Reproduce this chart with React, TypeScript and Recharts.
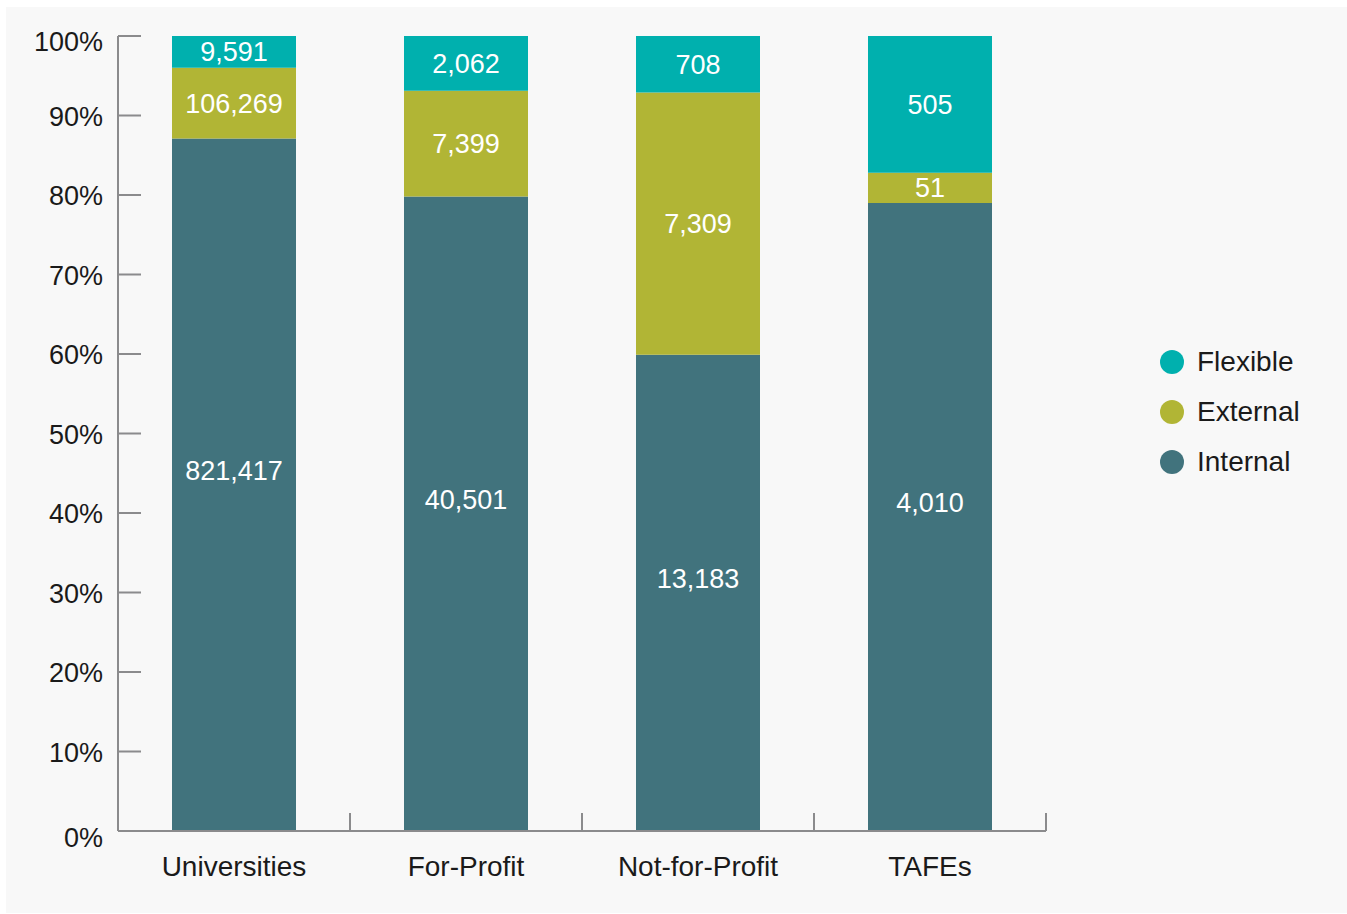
import React from 'react';
import { BarChart, Bar, XAxis, YAxis, LabelList, Legend } from 'recharts';

const categories = ['Universities', 'For-Profit', 'Not-for-Profit', 'TAFEs'];

// share of each provider type (%)
const internalPct = [87.1, 79.8, 59.9, 79.0];
const externalPct = [8.9, 13.3, 33.0, 3.8];
const flexiblePct = [4.0, 6.9, 7.1, 17.2];

// student counts printed inside the bars
const internalCount = [821417, 40501, 13183, 4010];
const externalCount = [106269, 7399, 7309, 51];
const flexibleCount = [9591, 2062, 708, 505];

const yTicks = [0, 10, 20, 30, 40, 50, 60, 70, 80, 90, 100];

const COLORS = {
  internal: '#41737d',
  external: '#b1b535',
  flexible: '#00b0ae',
};
const AXIS = '#8b8b8d';
const FONT = '"Liberation Sans", Arial, sans-serif';

const data = categories.map((name, i) => ({
  name,
  internal: internalPct[i],
  external: externalPct[i],
  flexible: flexiblePct[i],
  internalN: internalCount[i],
  externalN: externalCount[i],
  flexibleN: flexibleCount[i],
}));

const W = 1347;
const H = 914;
const AXIS_X = 118;
const AXIS_Y = 831;
const PLOT_RIGHT = 1046;
const HALF_BAND = (PLOT_RIGHT - AXIS_X) / categories.length / 2;

const fmt = (v: any) => Number(v).toLocaleString('en-US');

const YTick = (props: any) => {
  const { payload } = props;
  const y = payload.coordinate;
  const shift = payload.value === 100 ? 6 : payload.value === 0 ? 7 : 1;
  return (
    <g>
      <line x1={AXIS_X} x2={AXIS_X + 23} y1={y} y2={y} stroke={AXIS} strokeWidth={2} />
      <text
        x={103}
        y={y + shift}
        textAnchor="end"
        dominantBaseline="central"
        fontFamily={FONT}
        fontSize={27}
        fill="#1a1a1a"
      >
        {payload.value}%
      </text>
    </g>
  );
};

const XTick = (props: any) => {
  const { payload } = props;
  const x = payload.coordinate;
  return (
    <g>
      <line x1={x + HALF_BAND} x2={x + HALF_BAND} y1={AXIS_Y} y2={AXIS_Y - 18} stroke={AXIS} strokeWidth={2} />
      <text
        x={x}
        y={AXIS_Y + 35}
        textAnchor="middle"
        dominantBaseline="central"
        fontFamily={FONT}
        fontSize={28}
        fill="#1a1a1a"
      >
        {payload.value}
      </text>
    </g>
  );
};

const legendItems = [
  { key: 'flexible', label: 'Flexible' },
  { key: 'external', label: 'External' },
  { key: 'internal', label: 'Internal' },
];

const renderLegend = () => (
  <div style={{ fontFamily: FONT, fontSize: 28, color: '#1a1a1a' }}>
    {legendItems.map((it) => (
      <div key={it.key} style={{ display: 'flex', alignItems: 'center', height: 50 }}>
        <span
          style={{
            width: 24,
            height: 24,
            borderRadius: 12,
            background: (COLORS as any)[it.key],
            marginRight: 13,
            display: 'inline-block',
          }}
        />
        <span>{it.label}</span>
      </div>
    ))}
  </div>
);

const labelStyle = { fill: '#ffffff', fontSize: 27, fontFamily: FONT };

// internal counts sit a little above the middle of their segment
const InternalLabel = (props: any) => {
  const { x, y, width, height, value } = props;
  return (
    <text
      x={x + width / 2}
      y={y + height / 2 - 14}
      textAnchor="middle"
      dominantBaseline="central"
      fill="#ffffff"
      fontSize={27}
      fontFamily={FONT}
    >
      {fmt(value)}
    </text>
  );
};

const App: React.FC = () => {
  return (
    <div style={{ position: 'relative', width: W, height: H }}>
      <style>{`body{margin:0}`}</style>
      <div
        style={{
          position: 'absolute',
          left: 6,
          top: 7,
          width: W - 6,
          height: H - 8,
          background: '#f8f8f8',
        }}
      />
      <div style={{ position: 'absolute', left: 0, top: 0 }}>
        <BarChart
          width={W}
          height={H}
          data={data}
          margin={{ top: 36, right: W - PLOT_RIGHT, bottom: 0, left: 0 }}
          barSize={124}
        >
          <XAxis
            dataKey="name"
            height={H - AXIS_Y}
            axisLine={{ stroke: AXIS, strokeWidth: 2 }}
            tickLine={false}
            tick={<XTick />}
            interval={0}
          />
          <YAxis
            width={AXIS_X}
            domain={[0, 100]}
            ticks={yTicks}
            axisLine={{ stroke: AXIS, strokeWidth: 2 }}
            tickLine={false}
            tick={<YTick />}
            allowDataOverflow
          />
          <Legend
            layout="vertical"
            align="center"
            verticalAlign="middle"
            content={renderLegend}
            wrapperStyle={{ left: 1160, top: 337, width: 180 }}
          />
          <Bar dataKey="internal" name="Internal" stackId="a" fill={COLORS.internal} isAnimationActive={false}>
            <LabelList dataKey="internalN" content={<InternalLabel />} />
          </Bar>
          <Bar dataKey="external" name="External" stackId="a" fill={COLORS.external} isAnimationActive={false}>
            <LabelList dataKey="externalN" position="center" formatter={fmt} style={labelStyle} />
          </Bar>
          <Bar dataKey="flexible" name="Flexible" stackId="a" fill={COLORS.flexible} isAnimationActive={false}>
            <LabelList dataKey="flexibleN" position="center" formatter={fmt} style={labelStyle} />
          </Bar>
        </BarChart>
      </div>
    </div>
  );
};

export default App;
